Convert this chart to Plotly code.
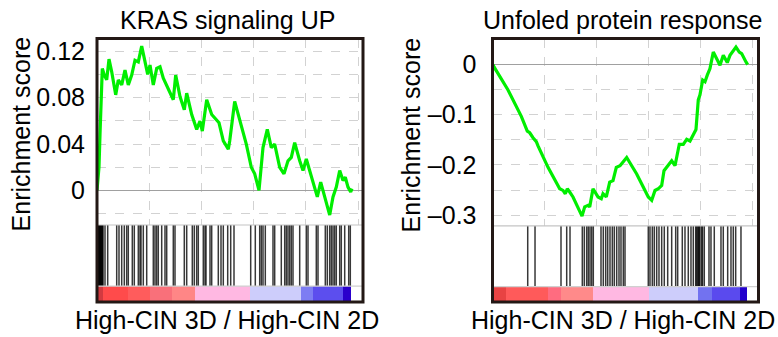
import plotly.graph_objects as go

# ---------------- data (gene rank, enrichment score) ----------------
kras_rank = [0, 191, 287, 383, 507, 699, 928, 1148, 1407, 1790, 2038, 2364, 2680, 2995, 3321,
             3637, 3952, 4278, 4594, 4852, 5072, 5388, 5713, 6029, 6345, 6823, 7302, 7531,
             7943, 8354, 8584, 9063, 9541, 9857, 10077, 10498, 10977, 11675, 12087, 12565,
             12699, 13177, 13656, 14287, 14766, 15091, 15503, 15885, 16297, 16680, 17005,
             17484, 17895, 18278, 18594, 18919, 19398, 19714, 20030, 20355, 20834, 21083,
             21408, 21848, 22269, 22585, 22901, 23226, 23542, 23762, 24020, 24279, 24403]
kras_es = [0.0, 0.0202, 0.0484, 0.0825, 0.1053, 0.0996, 0.0954, 0.1133, 0.1024, 0.0825, 0.0953,
           0.0911, 0.1039, 0.0911, 0.0996, 0.1124, 0.1110, 0.1246, 0.1110, 0.1002, 0.1082,
           0.0911, 0.1053, 0.1067, 0.0968, 0.0883, 0.0783, 0.0996, 0.0811, 0.0697, 0.0840,
           0.0655, 0.0527, 0.0598, 0.0512, 0.0783, 0.0655, 0.0584, 0.0427, 0.0356, 0.0427,
           0.0768, 0.0598, 0.0399, 0.0200, 0.0143, 0.0, 0.0370, 0.0527, 0.0370, 0.0399,
           0.0200, 0.0143, 0.0256, 0.0285, 0.0413, 0.0256, 0.0171, 0.0271, 0.0171, 0.0,
           -0.0056, 0.0072, -0.0085, -0.0213, -0.0056, 0.0029, 0.0171, 0.0085, 0.0114,
           0.0029, -0.0014, 0.0015]
kras_hits = [48, 96, 144, 191, 239, 287, 335, 383, 431, 479, 526, 574, 766, 1024, 1885, 2105,
             2364, 2613, 2842, 2995, 3378, 3570, 3952, 4115, 4211, 4431, 4756, 5388, 5551, 5713,
             5866, 6192, 6507, 6670, 7302, 7465, 8355, 8584, 9120, 9312, 9541, 9694, 10173,
             10336, 10431, 10814, 10977, 11608, 11867, 12087, 12508, 12795, 13111, 14709, 15149,
             15570, 15724, 15886, 16106, 16843, 17005, 17637, 17963, 18116, 18278, 18441, 18594,
             18757, 19398, 20030, 20193, 20987, 21150, 21848, 22039, 22269, 22422, 22585, 22748,
             22901, 23226, 23379, 23705, 24088, 24241]
kras_cb_edges = [0, 574, 2967, 5072, 7178, 9379, 14642, 19523, 20671, 23542, 24308]
kras_cb_colors = ["#d23a40", "#ff4b4b", "#ff5c5c", "#f9707a", "#ff8686", "#ffb8e2",
                  "#cdcdfb", "#7d7df3", "#5c4eee", "#2a00cc"]
kras_tickvals = [0, 0.04, 0.08, 0.12]
kras_ticktext = ["0", "0.04", "0.08", "0.12"]

upr_rank = [0, 96, 1445, 2725, 3303, 3534, 3852, 4016, 4170, 4334, 5297, 6423, 6741, 6962,
            7155, 7386, 7704, 8571, 8831, 9149, 9312, 9630, 10112, 10429, 10593, 10911, 11238,
            11556, 11874, 12230, 12712, 12875, 13838, 14955, 15283, 15601, 15918, 16246, 16467,
            16881, 17209, 17527, 17941, 18326, 18653, 18971, 19289, 19549, 19770, 19934, 20194,
            20416, 20637, 20897, 21215, 21542, 21860, 22178, 22563, 22823, 23141, 23401, 23719,
            23950, 24364, 24528]
upr_es = [0.0, -0.0047, -0.0506, -0.1032, -0.1327, -0.1359, -0.1457, -0.1510, -0.1536,
          -0.1622, -0.2048, -0.2475, -0.2508, -0.2574, -0.2475, -0.2540, -0.2638, -0.3020,
          -0.2835, -0.2804, -0.2835, -0.2475, -0.2638, -0.2672, -0.2574, -0.2638, -0.2343,
          -0.2312, -0.2048, -0.2016, -0.1884, -0.1851, -0.2180, -0.2638, -0.2705, -0.2509,
          -0.2475, -0.2410, -0.2115, -0.2016, -0.1918, -0.2016, -0.1589, -0.1589, -0.1491,
          -0.1524, -0.1392, -0.1294, -0.0703, -0.0604, -0.0309, -0.0343, -0.0211, -0.0079,
          0.0248, 0.0118, -0.0014, 0.0183, 0.0039, 0.0183, 0.0282, 0.0347, 0.0248, 0.0217,
          0.0051, 0.0]
upr_hits = [3342, 4045, 6548, 7097, 7415, 8600, 8792, 9023, 9177, 9341, 9505, 9659, 10400,
            10622, 10853, 11046, 11267, 11489, 11681, 11912, 12134, 12326, 12548, 12712, 14955,
            15119, 15341, 15533, 15764, 15986, 16246, 16496, 16824, 17209, 17594, 17787, 18230,
            18490, 18807, 19067, 19289, 19520, 19597, 19713, 19790, 19857, 19934, 20098, 20175,
            20348, 20801, 20993, 21311, 21956, 22178, 22602, 22919, 23141, 23372, 23882]
upr_cb_edges = [0, 1156, 5200, 6452, 9534, 14927, 19742, 21090, 23786, 24460]
upr_cb_colors = ["#e84343", "#ff5a5a", "#ff6c80", "#ff8a8a", "#ffb8e2", "#cdcdfb",
                 "#7272f0", "#5a4aee", "#2200cc"]
upr_tickvals = [-0.3, -0.2, -0.1, 0]
upr_ticktext = ["\u20130.3", "\u20130.2", "\u20130.1", "0"]

titles = ["KRAS signaling UP", "Unfoled protein response"]
xlabel = "High-CIN 3D / High-CIN 2D"
ylabel = "Enrichment score"

# ---------------- layout geometry (pixels -> paper) ----------------
W, H = 778, 337
FONT = "Liberation Sans, Arial, Helvetica, sans-serif"
FS = 25


def px(x):
    return x / W


def py(y):
    return 1 - y / H


panels = [
    dict(rank=kras_rank, es=kras_es, hits=kras_hits, edges=kras_cb_edges, colors=kras_cb_colors,
         tv=kras_tickvals, tt=kras_ticktext, minor=0.02, xr=[0, 25456], yr=[-0.02986, 0.1311],
         xpx=(97, 363), es_y=(38, 226.7), bc_y=(226.7, 288.5), cb_y=(288.5, 304.5),
         standoff=6, title=titles[0], ylab_x=21),
    dict(rank=upr_rank, es=upr_es, hits=upr_hits, edges=upr_cb_edges, colors=upr_cb_colors,
         tv=upr_tickvals, tt=upr_ticktext, minor=0.05, xr=[-50, 25570], yr=[-0.32126, 0.05177],
         xpx=(492.5, 758.5), es_y=(38, 227.5), bc_y=(227.5, 289), cb_y=(289, 304.5),
         standoff=10, title=titles[1], ylab_x=411),
]

fig = go.Figure()
layout = dict(width=W, height=H, margin=dict(l=0, r=0, t=0, b=0),
              paper_bgcolor="white", plot_bgcolor="white", showlegend=False,
              font=dict(family=FONT, color="black"), bargap=0)
annotations = []
shapes = []
GRID = "#d2d2d2"

for i, p in enumerate(panels):
    base = i * 3
    xa = [f"x{'' if base + k == 0 else base + k + 1}" for k in range(3)]
    ya = [f"y{'' if base + k == 0 else base + k + 1}" for k in range(3)]
    xdom = [px(p["xpx"][0]), px(p["xpx"][1])]

    # running enrichment score
    fig.add_trace(go.Scatter(x=p["rank"], y=p["es"], mode="lines",
                             line=dict(color="#00ee00", width=3.2), xaxis=xa[0], yaxis=ya[0]))
    # barcode of hits
    bx, by = [], []
    for r in p["hits"]:
        bx += [r, r, None]
        by += [0, 1, None]
    fig.add_trace(go.Scatter(x=bx, y=by, mode="lines",
                             line=dict(color="rgba(0,0,0,0.78)", width=1.5),
                             xaxis=xa[1], yaxis=ya[1]))
    # ranked list colour bar
    e = p["edges"]
    centers = [(e[k] + e[k + 1]) / 2 for k in range(len(e) - 1)]
    widths = [e[k + 1] - e[k] for k in range(len(e) - 1)]
    fig.add_trace(go.Bar(x=centers, y=[1] * len(centers), width=widths,
                         marker=dict(color=p["colors"], line=dict(width=0)),
                         xaxis=xa[2], yaxis=ya[2]))

    keys_x = [("xaxis" if base + k == 0 else f"xaxis{base + k + 1}") for k in range(3)]
    keys_y = [("yaxis" if base + k == 0 else f"yaxis{base + k + 1}") for k in range(3)]

    # ES axes
    layout[keys_x[0]] = dict(domain=xdom, range=p["xr"], anchor=ya[0], showticklabels=False,
                             ticks="", showgrid=True, dtick=5000, tick0=0, gridcolor=GRID,
                             griddash="dash", gridwidth=1, zeroline=False, showline=False)
    layout[keys_y[0]] = dict(domain=[py(p["es_y"][1]), py(p["es_y"][0])], range=p["yr"],
                             anchor=xa[0], tickmode="array", tickvals=p["tv"], ticktext=p["tt"],
                             tickfont=dict(size=FS, family=FONT, color="black"),
                             ticks="outside", ticklen=p["standoff"], tickcolor="rgba(0,0,0,0)",
                             showgrid=True, gridcolor=GRID, griddash="dash",
                             minor=dict(dtick=p["minor"], tick0=0, showgrid=True,
                                        gridcolor=GRID, griddash="dash", ticks=""),
                             zeroline=True, zerolinecolor="#a0a0a0", zerolinewidth=1.2,
                             showline=False)
    # barcode axes
    layout[keys_x[1]] = dict(domain=xdom, range=p["xr"], anchor=ya[1], showticklabels=False,
                             ticks="", showgrid=False, zeroline=False, showline=False)
    layout[keys_y[1]] = dict(domain=[py(p["bc_y"][1]), py(p["bc_y"][0])], range=[0, 1],
                             anchor=xa[1], showticklabels=False, ticks="", showgrid=False,
                             zeroline=False, showline=False)
    # colour bar axes
    layout[keys_x[2]] = dict(domain=xdom, range=p["xr"], anchor=ya[2], showticklabels=False,
                             ticks="", showgrid=False, zeroline=False, showline=False)
    layout[keys_y[2]] = dict(domain=[py(p["cb_y"][1]), py(p["cb_y"][0])], range=[0, 1],
                             anchor=xa[2], showticklabels=False, ticks="", showgrid=False,
                             zeroline=False, showline=False)

    # separator lines and frame
    for yy, col in [(p["bc_y"][0], "#c4c4c4"), (p["cb_y"][0], "#d0d0d0")]:
        shapes.append(dict(type="line", xref="paper", yref="paper", x0=xdom[0], x1=xdom[1],
                           y0=py(yy), y1=py(yy), line=dict(color=col, width=1.2)))
    shapes.append(dict(type="rect", xref="paper", yref="paper", x0=xdom[0], x1=xdom[1],
                       y0=py(p["cb_y"][1]), y1=py(p["es_y"][0]),
                       line=dict(color="#231815", width=3)))

    cx = (p["xpx"][0] + p["xpx"][1]) / 2 - 3
    annotations.append(dict(text=p["title"], x=px(cx), y=py(19), xref="paper", yref="paper",
                            showarrow=False, xanchor="center", yanchor="middle",
                            font=dict(size=FS, family=FONT, color="black")))
    annotations.append(dict(text=xlabel, x=px(cx), y=py(323), xref="paper", yref="paper",
                            showarrow=False, xanchor="center", yanchor="middle",
                            font=dict(size=FS, family=FONT, color="black")))
    annotations.append(dict(text=ylabel, x=px(p["ylab_x"]),
                            y=py(135), xref="paper", yref="paper", textangle=-90,
                            showarrow=False, xanchor="center", yanchor="middle",
                            font=dict(size=FS, family=FONT, color="black")))

layout["annotations"] = annotations
layout["shapes"] = shapes
fig.update_layout(**layout)
fig.write_html("out.html")
